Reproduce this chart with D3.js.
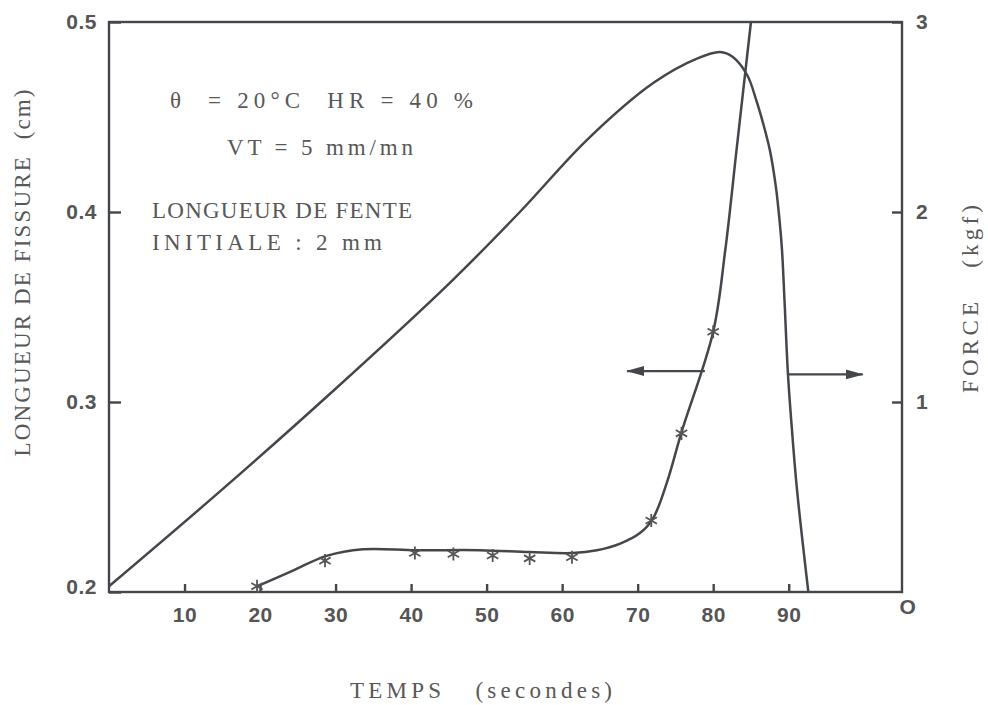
<!DOCTYPE html>
<html>
<head>
<meta charset="utf-8">
<script src="https://cdn.jsdelivr.net/npm/d3@7"></script>
<style>
  body { margin: 0; background: #fff; }
  .tw { font-family: "Liberation Serif", "DejaVu Serif", serif; fill: #585858; white-space: pre; }
  .num { font-family: "Liberation Sans", Arial, sans-serif; font-weight: bold; fill: #555; }
</style>
</head>
<body>
<div id="chart"></div>
<script>
// axis ticks
const timeTicks = [10, 20, 30, 40, 50, 60, 70, 80, 90];
const crackTicks = [0.2, 0.3, 0.4, 0.5];
const forceTicks = [0, 1, 2, 3];

// force (kgf) vs time (s), right axis
const forceTime  = [0, 15, 30, 45.2, 54.4, 63.3, 72.1, 78.0, 80.9, 82.6, 84.5, 85.7, 86.6, 87.5, 88.3, 88.78, 89.11, 89.44, 89.90, 90.43, 91.10, 92.6];
const forceValue = [0.03, 0.54, 1.07, 1.63, 2.00, 2.38, 2.68, 2.81, 2.842, 2.816, 2.721, 2.589, 2.468, 2.326, 2.132, 1.958, 1.80, 1.537, 1.147, 0.853, 0.537, 0];

// crack length (cm) vs time (s), left axis - fitted curve
const crackTime  = [19.6, 24.2, 28.8, 33.6, 40.7, 49.1, 55.7, 61.4, 64.6, 67.7, 70.3, 72.0, 73.9, 75.8, 80.0, 81.6, 83.1, 85.0];
const crackValue = [0.203, 0.211, 0.219, 0.2225, 0.222, 0.222, 0.221, 0.2205, 0.222, 0.2255, 0.231, 0.2385, 0.258, 0.284, 0.337, 0.38, 0.433, 0.5];

// measured points (asterisks)
const pointTime  = [19.6, 28.6, 40.5, 45.6, 50.8, 55.7, 61.3, 71.8, 75.8, 80.0];
const pointValue = [0.203, 0.2165, 0.2205, 0.22, 0.2192, 0.2177, 0.2183, 0.2376, 0.2835, 0.337];

const notes = ["θ  = 20°C  HR = 40 %", "VT = 5 mm/mn", "LONGUEUR DE FENTE", "INITIALE : 2 mm"];

const width = 988, height = 705;
const margin = { top: 22, right: 86, bottom: 113, left: 109 };
const ink = "#43474b";

const svg = d3.select("#chart").append("svg")
    .attr("width", width)
    .attr("height", height);

const x = d3.scaleLinear().domain([0, 105]).range([margin.left, width - margin.right]);
const yL = d3.scaleLinear().domain([0.2, 0.5]).range([height - margin.bottom, margin.top]);
const yR = d3.scaleLinear().domain([0, 3]).range([height - margin.bottom, margin.top]);

// frame
svg.append("rect")
    .attr("x", x(0))
    .attr("y", yR(3))
    .attr("width", x(105) - x(0))
    .attr("height", yR(0) - yR(3))
    .attr("fill", "none")
    .attr("stroke", ink)
    .attr("stroke-width", 2.4);

// bottom axis
const xAxis = svg.append("g")
    .attr("transform", `translate(0,${yR(0)})`)
    .call(d3.axisBottom(x).tickValues(timeTicks).tickSizeInner(-8).tickSizeOuter(0).tickPadding(15));

// left axis
const yAxisL = svg.append("g")
    .attr("transform", `translate(${x(0)},0)`)
    .call(d3.axisLeft(yL).tickValues(crackTicks).tickSizeInner(-12).tickSizeOuter(0).tickPadding(12)
        .tickFormat(d3.format(".1f")));

// right axis
const yAxisR = svg.append("g")
    .attr("transform", `translate(${x(105)},0)`)
    .call(d3.axisRight(yR).tickValues(forceTicks).tickSizeInner(-10).tickSizeOuter(0).tickPadding(14)
        .tickFormat(d => d === 0 ? "O" : d));

[xAxis, yAxisL, yAxisR].forEach(g => {
    g.select(".domain").remove();
    g.selectAll(".tick line").attr("stroke", ink).attr("stroke-width", 2.4);
    g.selectAll(".tick text")
        .attr("class", "num")
        .attr("font-size", 21)
        .attr("fill", "#555")
        .style("letter-spacing", "0.5px");
});

// the 0.2 label sits a bit above the corner
yAxisL.selectAll(".tick").filter(d => d === 0.2).select("text").attr("dy", "0.05em");
// the O of the force axis is under the corner
yAxisR.selectAll(".tick").filter(d => d === 0).select("line").remove();
yAxisR.selectAll(".tick").filter(d => d === 0).select("text")
    .attr("x", 6).attr("dy", "1.0em").attr("text-anchor", "middle");

// curves
const forceData = forceTime.map((t, i) => ({ t, v: forceValue[i] }));
const crackData = crackTime.map((t, i) => ({ t, v: crackValue[i] }));
const pointData = pointTime.map((t, i) => ({ t, v: pointValue[i] }));

svg.append("path")
    .datum(forceData)
    .attr("fill", "none")
    .attr("stroke", ink)
    .attr("stroke-width", 2.5)
    .attr("d", d3.line().x(d => x(d.t)).y(d => yR(d.v)).curve(d3.curveCatmullRom.alpha(0.5)));

svg.append("path")
    .datum(crackData)
    .attr("fill", "none")
    .attr("stroke", ink)
    .attr("stroke-width", 2.5)
    .attr("d", d3.line().x(d => x(d.t)).y(d => yL(d.v)).curve(d3.curveCatmullRom.alpha(0.5)));

const star = d3.symbol().type(d3.symbolAsterisk || d3.symbolCross).size(120);
svg.append("g")
    .selectAll("path")
    .data(pointData)
    .enter().append("path")
    .attr("transform", d => `translate(${x(d.t)},${yL(d.v)})`)
    .attr("d", star)
    .attr("fill", "none")
    .attr("stroke", "#555")
    .attr("stroke-width", 1.8);

// arrows telling which axis each curve belongs to
svg.append("defs").append("marker")
    .attr("id", "head")
    .attr("markerUnits", "userSpaceOnUse")
    .attr("viewBox", "0 -6 18 12")
    .attr("refX", 17)
    .attr("refY", 0)
    .attr("markerWidth", 18)
    .attr("markerHeight", 12)
    .attr("orient", "auto")
    .append("path")
    .attr("d", "M0,-5L18,0L0,5Z")
    .attr("fill", ink);

const arrows = [
    { t0: 78.9, t1: 68.6, v: 0.3163 },
    { t0: 89.9, t1: 99.8, v: 0.3145 }
];
svg.append("g")
    .selectAll("line")
    .data(arrows)
    .enter().append("line")
    .attr("x1", d => x(d.t0))
    .attr("x2", d => x(d.t1))
    .attr("y1", d => yL(d.v))
    .attr("y2", d => yL(d.v))
    .attr("stroke", ink)
    .attr("stroke-width", 2.2)
    .attr("marker-end", "url(#head)");

// axis titles (typewriter pitch kept through textLength)
function typed(sel, len) {
    return sel.attr("class", "tw")
        .attr("font-size", 23)
        .attr("textLength", len)
        .attr("lengthAdjust", "spacing");
}

typed(svg.append("text"), 262)
    .attr("x", 481)
    .attr("y", 698)
    .attr("text-anchor", "middle")
    .text("TEMPS   (secondes)");

typed(svg.append("text"), 367)
    .attr("transform", "rotate(-90)")
    .attr("x", -273)
    .attr("y", 30)
    .attr("text-anchor", "middle")
    .text("LONGUEUR DE FISSURE  (cm)");

typed(svg.append("text"), 188)
    .attr("transform", "rotate(-90)")
    .attr("x", -299)
    .attr("y", 978)
    .attr("text-anchor", "middle")
    .text("FORCE   (kgf)");

// test conditions
const notePos = [[170, 108, 303], [227, 155, 186], [152, 218, 260], [152, 250, 230]];
svg.append("g")
    .selectAll("text")
    .data(notes)
    .enter().append("text")
    .attr("class", "tw")
    .attr("x", (d, i) => notePos[i][0])
    .attr("y", (d, i) => notePos[i][1])
    .attr("font-size", 23)
    .attr("textLength", (d, i) => notePos[i][2])
    .attr("lengthAdjust", "spacing")
    .text(d => d);
</script>
</body>
</html>
